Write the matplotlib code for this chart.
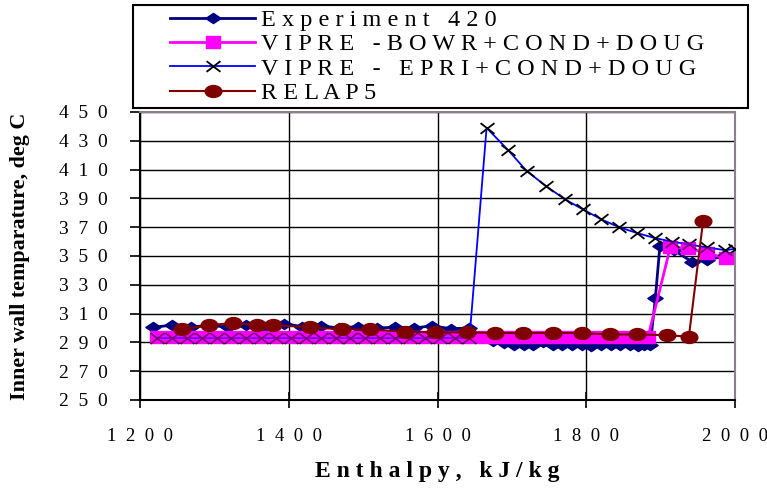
import matplotlib
matplotlib.use("Agg")
import matplotlib.pyplot as plt
from matplotlib.path import Path
from matplotlib.patches import Rectangle

plt.rcParams['font.family'] = ['Liberation Serif', 'DejaVu Serif']

# ---- data -------------------------------------------------------------
exp_h = [1218, 1243, 1268, 1293, 1318, 1343, 1368, 1393, 1418, 1443, 1468,
         1493, 1518, 1543, 1568, 1593, 1618, 1643, 1660, 1675, 1690, 1703,
         1716, 1729, 1742, 1755, 1768, 1781, 1794, 1807, 1820, 1833, 1846,
         1859, 1869, 1878, 1886, 1893, 1899, 1918, 1942, 1962, 1985]
exp_t = [300.5, 302, 300.5, 302, 300.5, 302, 300.5, 303, 301, 301.5, 300,
         301, 300, 300.5, 300, 301.5, 299.5, 300, 294, 291, 289.5, 288.5,
         288, 288.5, 290, 288.5, 288, 288.5, 288, 287.5, 288, 288.5, 288,
         288.5, 287.5, 288, 288, 321, 357, 354, 346, 347, 350]

bowr_h = [1223, 1243, 1263, 1283, 1303, 1323, 1343, 1363, 1383, 1403, 1423,
          1443, 1463, 1483, 1503, 1523, 1543, 1563, 1583, 1603, 1623, 1643,
          1663, 1683, 1703, 1723, 1743, 1763, 1783, 1803, 1823, 1843, 1863,
          1883, 1913, 1937, 1962, 1988]
bowr_t = [293.5, 293.5, 293.5, 293.5, 293.5, 293.5, 293.5, 293.5, 293.5,
          293.5, 293.5, 293.5, 293.5, 293.5, 293.5, 293.5, 293.5, 293.5,
          293.5, 293.5, 293.5, 293.5, 293.5, 293.5, 293.5, 293.5, 293.5,
          293.5, 293.5, 293.5, 293.5, 293.5, 293.5, 293.5, 356, 355.5, 352,
          348.5]

epri_h = [1223, 1243, 1263, 1283, 1303, 1323, 1343, 1363, 1383, 1403, 1423,
          1443, 1463, 1483, 1503, 1523, 1543, 1563, 1583, 1603, 1623, 1643,
          1666, 1695, 1720, 1746, 1771, 1795, 1820, 1844, 1868, 1892, 1915,
          1938, 1962, 1987, 2000]
epri_t = [293, 293, 293, 293, 293, 293, 293, 293, 293, 293, 293,
          293, 293, 293, 293, 293, 293, 293, 293, 293, 293, 293,
          439, 423.5, 409, 398.5, 389.5, 382.5, 375.5, 370, 366, 362.5, 360,
          358, 356, 354, 355]

relap_h = [1256, 1293, 1325, 1357, 1379, 1428, 1471, 1509, 1556, 1597, 1640,
           1677, 1715, 1755, 1794, 1832, 1868, 1908, 1938, 1957]
relap_t = [299, 302, 303.5, 302, 302, 300.5, 299, 299, 297.5, 297, 297,
           296.5, 296.5, 296.5, 296.5, 295.5, 295.5, 295, 294, 374]

series_labels = ["Experiment 420", "VIPRE -BOWR+COND+DOUG",
                 "VIPRE - EPRI+COND+DOUG", "RELAP5"]
x_ticks = [1200, 1400, 1600, 1800, 2000]
y_ticks = [250, 270, 290, 310, 330, 350, 370, 390, 410, 430, 450]
x_label = "Enthalpy, kJ/kg"
y_label = "Inner wall temparature, deg C"


def spaced(text, gap=" "):
    """Letter-spaced rendering of a label."""
    return gap.join(text)


# ---- marker shapes (wide diamond, wide oval, wide square, wide cross) --
diamond = Path([(-1.5, 0), (0, 1), (1.5, 0), (0, -1), (-1.5, 0)],
               [Path.MOVETO, Path.LINETO, Path.LINETO, Path.LINETO,
                Path.CLOSEPOLY])
circ = Path.unit_circle()
oval = Path(circ.vertices * [1.4, 1.0], circ.codes)
square = Path([(-1.1, -1), (1.1, -1), (1.1, 1), (-1.1, 1), (-1.1, -1)],
              [Path.MOVETO, Path.LINETO, Path.LINETO, Path.LINETO,
               Path.CLOSEPOLY])
cross = Path([(-1.3, -1), (1.3, 1), (-1.3, 1), (1.3, -1)],
             [Path.MOVETO, Path.LINETO, Path.MOVETO, Path.LINETO])

# ---- figure -------------------------------------------------------------
W, H = 767, 490
fig = plt.figure(figsize=(W / 100, H / 100), dpi=100)
ax = fig.add_axes([140 / W, 1 - 400 / H, 595 / W, 288 / H])

h_exp, = ax.plot(exp_h, exp_t, color="#000080", lw=2, marker=diamond,
                 ms=11, mfc="#000080", mec="#000080", zorder=3)
h_bowr, = ax.plot(bowr_h, bowr_t, color="#ff00ff", lw=2, marker=square,
                  ms=10, mfc="#ff00ff", mec="#ff00ff", zorder=4)
h_epri, = ax.plot(epri_h, epri_t, color="#0000ff", lw=1.3, marker=cross,
                  ms=10, mfc="none", mec="black", mew=1.3, zorder=5)
# translucent second pass of the squares tints the crosses lying on them
ax.plot(bowr_h, bowr_t, ls="none", marker=square, ms=10,
        mfc="#ff00ff", mec="none", alpha=0.5, zorder=6)
h_relap, = ax.plot(relap_h, relap_t, color="#800000", lw=1.5, marker=oval,
                   ms=12, mfc="#800000", mec="#800000", zorder=7)

ax.set_xlim(x_ticks[0], x_ticks[-1])
ax.set_ylim(y_ticks[0], y_ticks[-1])
ax.set_xticks(x_ticks)
ax.set_yticks(y_ticks)
ax.set_xticklabels([spaced(str(v), "  ") for v in x_ticks])
ax.set_yticklabels([spaced(str(v), "  ") for v in y_ticks])

ax.grid(True, color="black", lw=1.0)
ax.set_axisbelow(True)

for side in ("left", "bottom"):
    ax.spines[side].set_color("black")
    ax.spines[side].set_linewidth(1.5)
for side in ("top", "right"):
    ax.spines[side].set_color("#8a8090")
    ax.spines[side].set_linewidth(1.5)

ax.tick_params(axis="y", direction="out", length=7, width=1.2, pad=16,
               labelsize=14)
ax.tick_params(axis="x", direction="inout", length=12, width=1.2, pad=14,
               labelsize=13.5)

ax.set_ylabel(y_label, fontsize=15.8, fontweight="bold")
ax.yaxis.set_label_coords(-110 / 595, 0.5)
ax.set_xlabel(spaced(x_label), fontsize=17, fontweight="bold")
ax.xaxis.set_label_coords(0.5, -61 / 288)

# ---- legend -------------------------------------------------------------
fig.patches.append(Rectangle((133 / W, 1 - 108 / H), 615 / W, 103 / H,
                             transform=fig.transFigure, fill=False,
                             ec="black", lw=1.5))
fig.legend([h_exp, h_bowr, h_epri, h_relap],
           [spaced(s) for s in series_labels],
           loc="upper left", bbox_to_anchor=(170 / W, 1 - 9 / H),
           frameon=False, fontsize=17.5, handlelength=3.5,
           handletextpad=0.25, labelspacing=0.1, borderpad=0,
           borderaxespad=0, numpoints=1)

fig.savefig("out.png", dpi=100)
